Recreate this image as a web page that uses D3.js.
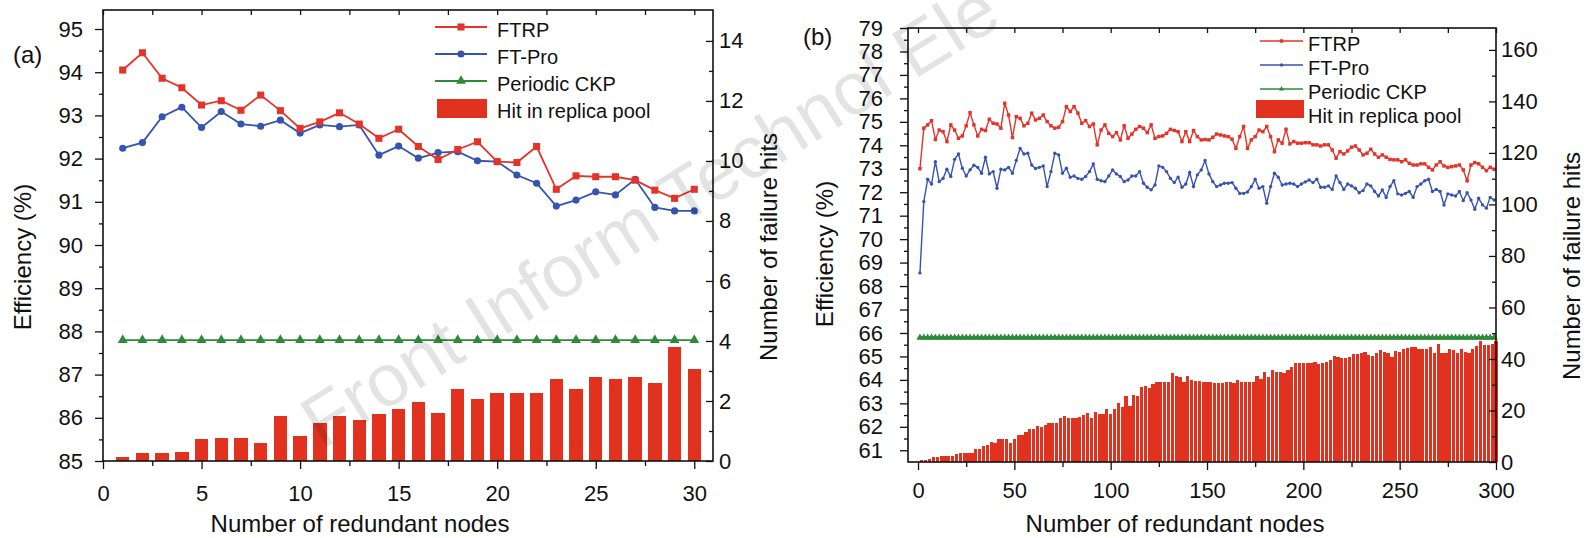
<!DOCTYPE html>
<html>
<head>
<meta charset="utf-8">
<script src="https://cdn.jsdelivr.net/npm/d3@7"></script>
<style>
  body { margin: 0; background: #fff; }
  svg { display: block; }
</style>
</head>
<body>
<svg id="chart" width="1591" height="538"></svg>
<script>
/* ---------- panel (a): 1..30 redundant nodes ---------- */
const nodesA = [1, 2, 3, 4, 5, 6, 7, 8, 9, 10, 11, 12, 13, 14, 15, 16, 17, 18, 19, 20, 21, 22, 23, 24, 25, 26, 27, 28, 29, 30];
const ftrpA  = [94.05, 94.45, 93.86, 93.64, 93.24, 93.34, 93.12, 93.47, 93.11, 92.70, 92.85, 93.06, 92.80, 92.47, 92.68,
                92.28, 91.98, 92.21, 92.39, 91.93, 91.91, 92.28, 91.29, 91.60, 91.58, 91.58, 91.50, 91.27, 91.08, 91.29];
const ftproA = [92.24, 92.37, 92.97, 93.19, 92.72, 93.09, 92.80, 92.75, 92.89, 92.59, 92.78, 92.74, 92.78, 92.08, 92.29,
                92.01, 92.14, 92.16, 91.95, 91.93, 91.62, 91.43, 90.90, 91.04, 91.23, 91.16, 91.52, 90.87, 90.79, 90.79];
const ckpA   = [87.8, 87.8, 87.8, 87.8, 87.8, 87.8, 87.8, 87.8, 87.8, 87.8, 87.8, 87.8, 87.8, 87.8, 87.8,
                87.8, 87.8, 87.8, 87.8, 87.8, 87.8, 87.8, 87.8, 87.8, 87.8, 87.8, 87.8, 87.8, 87.8, 87.8];
const hitsA  = [0.12, 0.26, 0.26, 0.31, 0.72, 0.78, 0.78, 0.59, 1.51, 0.84, 1.26, 1.51, 1.38, 1.57, 1.72,
                1.98, 1.59, 2.39, 2.06, 2.26, 2.26, 2.26, 2.72, 2.39, 2.79, 2.72, 2.79, 2.59, 3.79, 3.06];

const xTicksA  = [0, 5, 10, 15, 20, 25, 30];
const xMinorA  = [2.5, 7.5, 12.5, 17.5, 22.5, 27.5];
const yTicksA  = [85, 86, 87, 88, 89, 90, 91, 92, 93, 94, 95];
const yMinorA  = [85.5, 86.5, 87.5, 88.5, 89.5, 90.5, 91.5, 92.5, 93.5, 94.5];
const y2TicksA = [0, 2, 4, 6, 8, 10, 12, 14];
const y2MinorA = [1, 3, 5, 7, 9, 11, 13];

/* ---------- panel (b): up to 300 redundant nodes ---------- */
// lines sampled at odd node counts, bars at even node counts
const nodesB    = d3.range(1, 300, 2);
const barNodesB = d3.range(2, 301, 2);
const ftrpB = [
  73.00, 74.73, 74.87, 75.05, 74.25, 74.65, 74.58, 74.16, 74.87, 74.65,
  74.30, 74.40, 74.83, 75.39, 74.87, 74.40, 74.68, 74.63, 75.11, 74.94,
  74.91, 74.73, 75.79, 75.29, 74.33, 75.22, 75.15, 74.83, 74.94, 75.37,
  75.08, 75.15, 75.29, 75.01, 74.83, 74.73, 74.77, 75.01, 75.65, 75.44,
  75.65, 75.37, 74.94, 75.05, 74.80, 74.91, 74.02, 74.65, 74.87, 74.51,
  74.37, 74.54, 74.23, 74.83, 74.30, 74.48, 74.68, 74.80, 74.73, 74.54,
  74.87, 74.30, 74.37, 74.40, 74.51, 74.68, 74.63, 74.58, 74.16, 74.58,
  74.16, 74.63, 74.37, 74.23, 74.25,
  74.23, 74.34, 74.48, 74.44, 74.40, 74.37, 74.26, 73.87, 74.37, 74.80,
  73.87, 74.23, 74.37, 74.65, 74.58, 74.80, 74.37, 73.73, 74.23, 74.09,
  74.68, 74.06, 74.16, 74.09, 74.09, 74.11, 74.11, 74.02, 74.02, 73.97,
  74.02, 74.02, 73.80, 73.45, 73.73, 73.63, 73.76, 73.92, 73.97, 73.80,
  73.59, 73.66, 73.83, 73.63, 73.49, 73.59, 73.49, 73.40, 73.38, 73.38,
  73.30, 73.38, 73.23, 73.16, 73.16, 73.21, 73.21, 73.06, 72.95, 73.16,
  73.30, 73.12, 73.06, 73.09, 73.12, 73.16, 72.95, 72.49, 73.16, 73.26,
  73.21, 73.06, 72.92, 73.06, 72.98
];
const ftproB = [
  68.56, 71.60, 72.55, 72.35, 73.30, 72.45, 72.59, 72.98, 72.67, 73.40,
  73.63, 73.02, 72.69, 72.95, 73.15, 73.06, 72.81, 73.49, 72.78, 72.88,
  72.17, 72.98, 72.95, 73.06, 72.81, 73.35, 73.87, 73.63, 73.66, 73.16,
  73.01, 73.06, 73.12, 72.24, 72.88, 73.66, 73.59, 72.81, 73.02, 72.64,
  72.69, 72.59, 72.55, 72.67, 72.88, 73.21, 72.55, 72.49, 72.45, 72.69,
  72.95, 72.78, 72.67, 72.45, 72.52, 72.69, 72.69, 72.88, 72.38, 72.21,
  72.10, 72.31, 73.12, 73.06, 72.88, 72.59, 72.41, 72.64, 72.21, 72.35,
  72.84, 72.24, 72.74, 72.95, 73.35,
  72.78, 72.45, 72.24, 72.31, 72.38, 72.38, 72.41, 72.17, 71.95, 71.95,
  72.01, 72.24, 72.55, 72.17, 72.24, 71.53, 72.24, 72.81, 72.64, 72.31,
  72.35, 72.38, 72.35, 72.24, 72.35, 72.44, 72.52, 72.41, 72.55, 72.21,
  72.21, 72.27, 72.12, 72.69, 72.41, 72.12, 72.35, 72.27, 72.17, 71.98,
  72.07, 72.35, 72.27, 72.03, 71.84, 72.10, 71.78, 72.24, 72.49, 71.93,
  71.88, 71.95, 72.03, 71.78, 72.24, 72.35, 72.49, 72.55, 72.03, 72.12,
  72.03, 71.46, 71.93, 71.88, 71.84, 72.03, 71.64, 71.98, 71.67, 71.27,
  71.74, 71.46, 71.32, 71.78, 71.67
];
const ckpB = 65.8;   // flat over the whole range
const hitsB = [
  0.8, 0.8, 1.0, 1.8, 1.8, 2.5, 2.5, 2.5, 2.5, 3.1,
  3.4, 3.4, 3.4, 3.6, 4.9, 4.9, 6.2, 6.5, 7.9, 7.5,
  8.8, 8.8, 8.8, 7.3, 8.8, 10.5, 10.5, 11.8, 12.7, 12.7,
  14.0, 13.5, 14.4, 15.0, 15.0, 15.3, 17.0, 17.9, 17.2, 17.2,
  17.2, 17.6, 18.3, 18.9, 17.2, 19.6, 18.6, 18.6, 20.4, 18.6,
  20.4, 22.8, 21.2, 25.6, 21.7, 25.9, 25.6, 29.2, 29.5, 28.8,
  30.3, 31.2, 31.2, 31.2, 31.2, 34.4, 33.4, 32.9, 31.2, 33.4,
  31.8, 31.6, 31.6, 31.2, 31.2, 31.0, 30.5, 30.5, 30.8, 31.2,
  31.2, 30.5, 31.8, 31.2, 31.2, 31.2, 31.2, 33.4, 32.1, 35.1,
  32.9, 35.7, 35.1, 35.1, 34.7, 35.7, 36.8, 38.4, 38.6, 38.6,
  38.6, 38.6, 39.0, 38.1, 38.6, 38.9, 39.6, 41.2, 40.7, 40.3,
  40.3, 40.9, 42.0, 42.0, 42.2, 42.9, 41.6, 41.2, 42.5, 43.5,
  42.9, 42.5, 40.7, 43.2, 42.9, 43.8, 44.3, 44.5, 44.5, 43.8,
  43.8, 43.8, 44.5, 42.5, 45.8, 42.2, 42.5, 43.8, 43.5, 42.2,
  43.8, 42.9, 42.2, 43.8, 45.1, 47.1, 45.4, 45.4, 45.8, 47.1
];

const xTicksB  = [0, 50, 100, 150, 200, 250, 300];
const xMinorB  = [25, 75, 125, 175, 225, 275];
const yTicksB  = [61, 62, 63, 64, 65, 66, 67, 68, 69, 70, 71, 72, 73, 74, 75, 76, 77, 78, 79];
const yMinorB  = [61.5, 62.5, 63.5, 64.5, 65.5, 66.5, 67.5, 68.5, 69.5, 70.5, 71.5, 72.5, 73.5, 74.5, 75.5, 76.5, 77.5, 78.5];
const y2TicksB = [0, 20, 40, 60, 80, 100, 120, 140, 160];
const y2MinorB = [10, 30, 50, 70, 90, 110, 130, 150];

const seriesNames = ['FTRP', 'FT-Pro', 'Periodic CKP', 'Hit in replica pool'];

/* ---------- style ---------- */
const RED = '#e3342a', BLUE = '#3653b0', GREEN = '#2e8a3a', BAR = '#e0321f', INK = '#111';
const FONT = 'Arial, "Liberation Sans", Helvetica, sans-serif';

const svg = d3.select('#chart').attr('font-family', FONT);

const panels = [
  {
    tag: '(a)', tagX: 13, tagY: 63,
    left: 103, right: 713, top: 10, bottom: 461,
    xDomain: [0, 30.95], yDomain: [85, 95.44], y2Domain: [0, 15.03],
    nodes: nodesA, barNodes: nodesA, ftrp: ftrpA, ftpro: ftproA, ckp: ckpA, hits: hitsA,
    barW: 0.68, marker: [50, 40, 42], legendTri: 42, lineW: 1.8, ckpW: 1.8,
    xTicks: xTicksA, xMinor: xMinorA, yTicks: yTicksA, yMinor: yMinorA, y2Ticks: y2TicksA, y2Minor: y2MinorA,
    leftPad: 12, bottomPad: 16, rightPad: 6, tickFont: 22,
    xTitle: [360, 532], yTitle: [31, 257], y2Title: [777, 247],
    legend: { x1: 435, x2: 487, tx: 497, rows: [27, 54, 81, 108], rect: [437, 99, 50, 19], fs: 20 }
  },
  {
    tag: '(b)', tagX: 803, tagY: 45,
    left: 908, right: 1496, top: 28, bottom: 462,
    xDomain: [-5.2, 300], yDomain: [60.5, 79], y2Domain: [0, 168.5],
    nodes: nodesB, barNodes: barNodesB, ftrp: ftrpB, ftpro: ftproB, ckp: nodesB.map(() => ckpB), hits: hitsB,
    barW: 1.68, marker: [12, 9, 22], legendTri: 12, lineW: 1.4, ckpW: 2.6,
    xTicks: xTicksB, xMinor: xMinorB, yTicks: yTicksB, yMinor: yMinorB, y2Ticks: y2TicksB, y2Minor: y2MinorB,
    leftPad: 17, bottomPad: 12, rightPad: 5, tickFont: 22,
    xTitle: [1175, 532], yTitle: [833, 254], y2Title: [1580, 266],
    legend: { x1: 1260, x2: 1303, tx: 1308, rows: [41, 65, 89, 113], rect: [1256, 100, 48, 18], fs: 20 }
  }
];

function styleAxis(sel, size) {
  sel.attr('font-size', size).attr('font-family', FONT);
  sel.select('.domain').remove();
  sel.selectAll('line').attr('stroke', INK).attr('stroke-width', 1.3);
  sel.selectAll('text').attr('fill', INK);
}

function drawPanel(p) {
  const x  = d3.scaleLinear().domain(p.xDomain).range([p.left, p.right]);
  const y  = d3.scaleLinear().domain(p.yDomain).range([p.bottom, p.top]);
  const y2 = d3.scaleLinear().domain(p.y2Domain).range([p.bottom, p.top]);
  const g = svg.append('g');

  // hit bars (right axis)
  g.append('g')
    .selectAll('rect')
    .data(p.hits)
    .join('rect')
      .attr('x', (d, i) => x(p.barNodes[i] - p.barW / 2))
      .attr('width', x(p.barW) - x(0))
      .attr('y', (d) => y2(d))
      .attr('height', (d) => y2(0) - y2(d))
      .attr('fill', BAR)
      .attr('shape-rendering', 'crispEdges');

  // three efficiency series
  const series = [
    { vals: p.ckp,   color: GREEN, sym: d3.symbolTriangle, size: p.marker[2], w: p.ckpW },
    { vals: p.ftpro, color: BLUE,  sym: d3.symbolCircle,   size: p.marker[1], w: p.lineW },
    { vals: p.ftrp,  color: RED,   sym: d3.symbolSquare,   size: p.marker[0], w: p.lineW }
  ];
  series.forEach((s) => {
    const line = d3.line().x((d, i) => x(p.nodes[i])).y((d) => y(d));
    g.append('path')
      .attr('d', line(s.vals))
      .attr('fill', 'none')
      .attr('stroke', s.color)
      .attr('stroke-width', s.w);
    g.append('g')
      .selectAll('path')
      .data(s.vals)
      .join('path')
        .attr('transform', (d, i) => `translate(${x(p.nodes[i])},${y(d)})`)
        .attr('d', d3.symbol(s.sym, s.size))
        .attr('fill', s.color);
  });

  // frame
  g.append('rect')
    .attr('x', p.left).attr('y', p.top)
    .attr('width', p.right - p.left).attr('height', p.bottom - p.top)
    .attr('fill', 'none').attr('stroke', INK).attr('stroke-width', 1.6);

  // left axis (outward ticks)
  g.append('g').attr('transform', `translate(${p.left},0)`)
    .call(d3.axisLeft(y).tickValues(p.yTicks).tickSize(8).tickPadding(p.leftPad))
    .call(styleAxis, p.tickFont);
  g.append('g').attr('transform', `translate(${p.left},0)`)
    .call(d3.axisLeft(y).tickValues(p.yMinor).tickSize(4).tickFormat(''))
    .call(styleAxis, p.tickFont);

  // right axis (inward ticks)
  g.append('g').attr('transform', `translate(${p.right},0)`)
    .call(d3.axisRight(y2).tickValues(p.y2Ticks).tickSize(-7).tickPadding(p.rightPad))
    .call(styleAxis, p.tickFont);
  g.append('g').attr('transform', `translate(${p.right},0)`)
    .call(d3.axisRight(y2).tickValues(p.y2Minor).tickSize(-4).tickFormat(''))
    .call(styleAxis, p.tickFont);

  // bottom axis (outward ticks)
  g.append('g').attr('transform', `translate(0,${p.bottom})`)
    .call(d3.axisBottom(x).tickValues(p.xTicks).tickSize(8).tickPadding(p.bottomPad))
    .call(styleAxis, p.tickFont);
  g.append('g').attr('transform', `translate(0,${p.bottom})`)
    .call(d3.axisBottom(x).tickValues(p.xMinor).tickSize(5).tickFormat(''))
    .call(styleAxis, p.tickFont);

  // top axis (inward ticks, no labels)
  g.append('g').attr('transform', `translate(0,${p.top})`)
    .call(d3.axisTop(x).tickValues(p.xTicks.concat(p.xMinor)).tickSize(-5).tickFormat(''))
    .call(styleAxis, p.tickFont);

  // titles
  g.append('text')
    .attr('x', p.xTitle[0]).attr('y', p.xTitle[1])
    .attr('text-anchor', 'middle').attr('font-size', 24).attr('fill', INK)
    .text('Number of redundant nodes');
  g.append('text')
    .attr('transform', `translate(${p.yTitle[0]},${p.yTitle[1]}) rotate(-90)`)
    .attr('text-anchor', 'middle').attr('font-size', 24).attr('fill', INK)
    .text('Efficiency (%)');
  g.append('text')
    .attr('transform', `translate(${p.y2Title[0]},${p.y2Title[1]}) rotate(-90)`)
    .attr('text-anchor', 'middle').attr('font-size', 24).attr('fill', INK)
    .text('Number of failure hits');
  g.append('text')
    .attr('x', p.tagX).attr('y', p.tagY)
    .attr('font-size', 24).attr('fill', INK)
    .text(p.tag);

  // legend
  const L = p.legend;
  const lg = g.append('g').attr('font-size', L.fs);
  [[RED, d3.symbolSquare, p.marker[0]], [BLUE, d3.symbolCircle, p.marker[1]], [GREEN, d3.symbolTriangle, p.legendTri]]
    .forEach(([c, sym, size], i) => {
      lg.append('line')
        .attr('x1', L.x1).attr('x2', L.x2)
        .attr('y1', L.rows[i]).attr('y2', L.rows[i])
        .attr('stroke', c).attr('stroke-width', p.lineW);
      lg.append('path')
        .attr('transform', `translate(${(L.x1 + L.x2) / 2},${L.rows[i]})`)
        .attr('d', d3.symbol(sym, size))
        .attr('fill', c);
    });
  lg.append('rect')
    .attr('x', L.rect[0]).attr('y', L.rect[1])
    .attr('width', L.rect[2]).attr('height', L.rect[3])
    .attr('fill', BAR);
  lg.selectAll('text')
    .data(seriesNames)
    .join('text')
      .attr('x', L.tx)
      .attr('y', (d, i) => L.rows[i] + 3 + L.fs * 0.36)
      .attr('fill', INK)
      .text((d) => d);
}

panels.forEach(drawPanel);

// journal watermark (runs off the top edge, as in the source figure)
svg.append('text')
  .attr('transform', 'translate(322,450) rotate(-32)')
  .attr('font-size', 74)
  .attr('fill', '#000')
  .attr('fill-opacity', 0.11)
  .text('Front Inform Technol Ele');
</script>
</body>
</html>
